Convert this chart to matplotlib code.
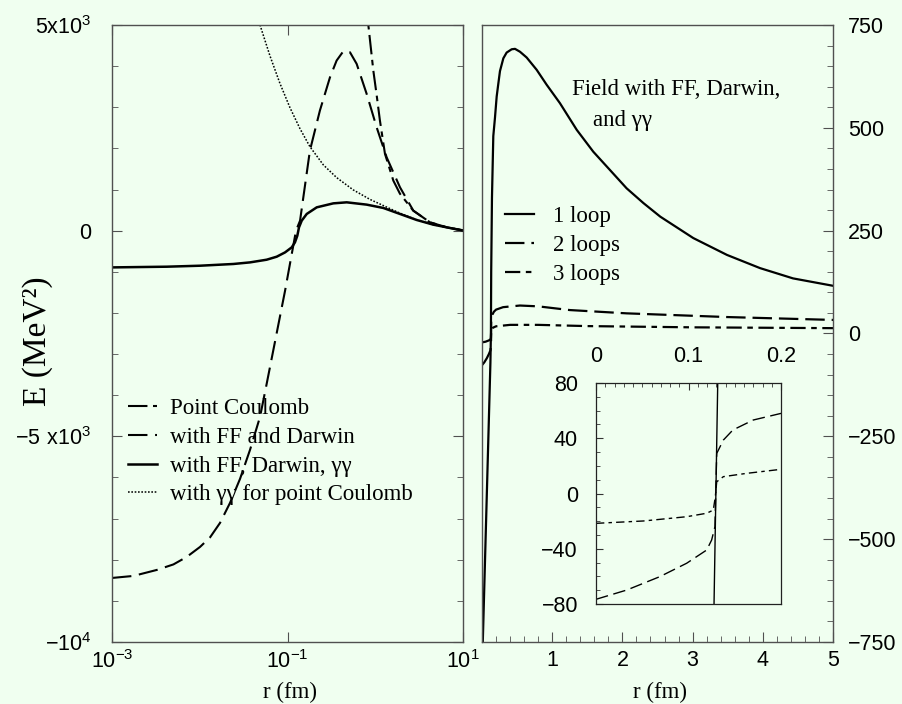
import matplotlib
matplotlib.use("Agg")
import matplotlib.pyplot as plt
from matplotlib.ticker import FixedLocator, FixedFormatter, MultipleLocator, NullLocator

# ---------------- data: energy density vs radius (log panel) ----------------
r_point = [0.562, 0.708, 0.834, 0.951, 1.037, 1.13, 1.29, 1.607, 1.91, 2.71, 4.21, 6.52, 10.0]
e_point = [12200, 7200, 5000, 3890, 3300, 2680, 1870, 1217, 900, 487, 203, 81, 5]

r_ffd = [0.001, 0.00175, 0.00324, 0.00501, 0.00710, 0.01007, 0.01309, 0.01702, 0.02213,
         0.02877, 0.03741, 0.04864, 0.0579, 0.0938, 0.125, 0.139, 0.180, 0.234, 0.305,
         0.363, 0.433, 0.515, 0.614, 0.798, 1.037, 1.349, 1.914, 2.716, 4.207, 6.516, 10.0]
e_ffd = [-8443, -8394, -8248, -8114, -7932, -7689, -7458, -7105, -6618,
         -6034, -5328, -4526, -3723, -1460, 0, 243, 1946, 2920, 3730,
         4136, 4363, 4338, 4055, 3326, 2514, 1783, 1054, 487, 203, 81, 5]

r_ffdgg = [0.001, 0.0042, 0.01007, 0.02415, 0.03741, 0.0579, 0.0753, 0.0938, 0.1117,
           0.1216, 0.1294, 0.1352, 0.1452, 0.1656, 0.2153, 0.3327, 0.4732, 0.7980,
           1.236, 1.914, 2.965, 4.592, 7.112, 10.0]
e_ffdgg = [-893, -876, -852, -810, -771, -706, -633, -528, -406,
           -284, -122, 80, 243, 406, 567, 664, 689, 633,
           552, 406, 260, 146, 65, 5]

r_gg_point = [0.035, 0.0486, 0.0631, 0.0820, 0.1067, 0.1387, 0.1803, 0.2559, 0.3631,
              0.5623, 0.8710, 1.236, 1.914, 2.965, 4.592, 7.112, 10.0]
e_gg_point = [6200, 5000, 4250, 3580, 2990, 2480, 2040, 1600, 1290,
              990, 760, 610, 425, 265, 146, 65, 5]

# ---------------- data: field energy with vacuum polarisation loops ----------------
r_loop1 = [0.0, 0.12, 0.127, 0.131, 0.142, 0.161, 0.185, 0.209, 0.233, 0.256, 0.304,
           0.351, 0.423, 0.47, 0.541, 0.636, 0.779, 0.92, 1.11, 1.35, 1.585, 1.82,
           2.06, 2.3, 2.54, 3.01, 3.49, 3.96, 4.43, 5.0]
e_loop1 = [-820, -70, 0, 150, 330, 480, 525, 576, 608, 638, 669,
           683, 691, 692, 685, 671, 641, 605, 560, 495, 442, 398,
           353, 317, 284, 232, 191, 159, 134, 116]

r_loop2 = [0.0, 0.033, 0.069, 0.098, 0.12, 0.125, 0.1286, 0.1305, 0.138, 0.148, 0.17, 0.2,
           0.3, 0.54, 0.8, 1.25, 2.06, 3.49, 5.0]
e_loop2 = [-77, -70, -60, -50, -41, -34, -24, 29, 39, 46, 53, 58,
           64, 68, 66, 57, 49, 40, 33]

r_loop3 = [0.0, 0.051, 0.098, 0.12, 0.127, 0.129, 0.1305, 0.138, 0.163, 0.2,
           0.4, 0.8, 1.5, 3.0, 5.0]
e_loop3 = [-21.6, -19.9, -16.8, -14.3, -12, -2.3, 8.5, 12.2, 14.6, 17.5,
           21, 21, 18, 15, 13]

# inset: close-up of the region around the nuclear surface
r_in_loop1 = [0.1271, 0.1321]
e_in_loop1 = [-100, 100]

r_in_loop2 = [0.0, 0.0332, 0.069, 0.098, 0.1197, 0.125, 0.1286, 0.1305, 0.1377, 0.148, 0.170, 0.2]
e_in_loop2 = [-76.6, -69.9, -60.2, -50.5, -40.9, -33.7, -24, 29, 38.7, 46, 53.2, 58]

r_in_loop3 = [0.0, 0.0512, 0.098, 0.1197, 0.1268, 0.129, 0.1305, 0.1377, 0.163, 0.2]
e_in_loop3 = [-21.6, -19.9, -16.8, -14.3, -12, -2.3, 8.5, 12.2, 14.6, 17.5]

# tick labels
left_yticks = [-10000, -5000, 0, 5000]
left_yticklabels = [r"$\mathregular{-10^4}$", r"$\mathregular{-5\ x10^3}$", "0",
                    r"$\mathregular{5x10^3}$"]
left_xticks = [1e-3, 1e-1, 1e1]
left_xticklabels = [r"$\mathregular{10^{-3}}$", r"$\mathregular{10^{-1}}$", r"$\mathregular{10^{1}}$"]
right_xticks = [0, 1, 2, 3, 4, 5]
right_xticklabels = ["", "1", "2", "3", "4", "5"]
inset_xticks = [0, 0.1, 0.2]
inset_xticklabels = ["0", "0.1", "0.2"]

# ---------------- style ----------------
BG = "#F0FFF0"
SPINE = "#505050"
SERIF = "Liberation Serif"
TXT = 16.5
TICK = 15.5
plt.rcParams["font.family"] = ["Liberation Sans", "DejaVu Sans"]
plt.rcParams["lines.scale_dashes"] = False
plt.rcParams["axes.linewidth"] = 1.0
plt.rcParams["lines.solid_joinstyle"] = "round"
plt.rcParams["lines.dash_joinstyle"] = "round"

fig = plt.figure(figsize=(9.02, 7.04), dpi=100, facecolor=BG)
W, H = 902.0, 704.0
axL = fig.add_axes([112 / W, 62 / H, 351 / W, 617 / H], facecolor=BG)
axR = fig.add_axes([482 / W, 62 / H, 351 / W, 617 / H], facecolor=BG)
axI = fig.add_axes([596 / W, 100 / H, 185 / W, 221 / H], facecolor=BG)

for ax in (axL, axR):
    for s in ax.spines.values():
        s.set_color(SPINE)
for s in axI.spines.values():
    s.set_color("#222222")
    s.set_linewidth(0.9)

# ---------------- left panel ----------------
axL.set_xscale("log")
axL.plot(r_point, e_point, color="k", lw=1.5, dashes=(14, 4, 4, 4), label="Point Coulomb")
axL.plot(r_ffd, e_ffd, color="k", lw=1.5, dashes=(14, 5.5), label="with FF and Darwin")
axL.plot(r_ffdgg, e_ffdgg, color="k", lw=1.8, label="with FF, Darwin, γγ")
axL.plot(r_gg_point, e_gg_point, color="k", lw=1.1, dashes=(1.2, 1.2),
         label="with γγ for point Coulomb")
axL.set_xlim(1e-3, 10)
axL.set_ylim(-10000, 5000)
axL.xaxis.set_major_locator(FixedLocator(left_xticks))
axL.xaxis.set_major_formatter(FixedFormatter(left_xticklabels))
axL.xaxis.set_minor_locator(NullLocator())
axL.yaxis.set_major_locator(FixedLocator(left_yticks))
axL.yaxis.set_major_formatter(FixedFormatter(left_yticklabels))
axL.yaxis.set_minor_locator(MultipleLocator(1000))
axL.tick_params(which="both", direction="in", top=True, right=True, color=SPINE,
                labelsize=TICK)
axL.tick_params(which="major", length=7)
axL.tick_params(which="minor", length=4)
axL.tick_params(axis="y", pad=15)
axL.tick_params(axis="x", pad=6)
axL.legend(loc="upper left", bbox_to_anchor=(0.046, 0.395), frameon=False,
           prop={"family": SERIF, "size": TXT}, handlelength=1.27, handletextpad=0.57,
           labelspacing=0.33, borderpad=0, borderaxespad=0)
axL.set_xlabel("r (fm)", family=SERIF, fontsize=TXT)
axL.xaxis.set_label_coords(0.507, -0.064)

fig.text(38 / W, 1 - 341 / H, "E (MeV²)", rotation=90, ha="center", va="center",
         family=SERIF, fontsize=24)

# ---------------- right panel ----------------
axR.plot(r_loop1, e_loop1, color="k", lw=1.6, label="1 loop")
axR.plot(r_loop2, e_loop2, color="k", lw=1.6, dashes=(14, 5), label="2 loops")
axR.plot(r_loop3, e_loop3, color="k", lw=1.6, dashes=(11, 4, 4, 4), label="3 loops")
axR.set_xlim(0, 5)
axR.set_ylim(-750, 750)
axR.yaxis.tick_right()
axR.xaxis.set_major_locator(FixedLocator(right_xticks))
axR.xaxis.set_major_formatter(FixedFormatter(right_xticklabels))
axR.xaxis.set_minor_locator(MultipleLocator(0.2))
axR.yaxis.set_major_locator(MultipleLocator(250))
axR.yaxis.set_minor_locator(MultipleLocator(50))
axR.tick_params(which="both", direction="in", top=False, left=False, right=True,
                bottom=True, color=SPINE, labelsize=TICK)
axR.tick_params(which="major", length=7)
axR.tick_params(which="minor", length=4)
axR.tick_params(axis="y", pad=11)
axR.tick_params(axis="x", pad=6)
axR.legend(loc="upper left", bbox_to_anchor=(0.066, 0.706), frameon=False,
           prop={"family": SERIF, "size": TXT}, handlelength=1.25, handletextpad=0.83,
           labelspacing=0.33, borderpad=0, borderaxespad=0)
axR.text(1.28, 592, "Field with FF, Darwin,", family=SERIF, fontsize=TXT, va="center")
axR.text(1.58, 519, "and γγ", family=SERIF, fontsize=TXT, va="center")
axR.set_xlabel("r (fm)", family=SERIF, fontsize=TXT)
axR.xaxis.set_label_coords(0.507, -0.064)

# ---------------- inset ----------------
axI.plot(r_in_loop1, e_in_loop1, color="k", lw=1.0)
axI.plot(r_in_loop2, e_in_loop2, color="k", lw=1.0, dashes=(9, 4))
axI.plot(r_in_loop3, e_in_loop3, color="k", lw=1.0, dashes=(6, 3, 2.5, 3))
axI.set_xlim(0, 0.2)
axI.set_ylim(-80, 80)
axI.xaxis.tick_top()
axI.xaxis.set_major_locator(FixedLocator(inset_xticks))
axI.xaxis.set_major_formatter(FixedFormatter(inset_xticklabels))
axI.xaxis.set_minor_locator(MultipleLocator(0.01))
axI.yaxis.set_major_locator(MultipleLocator(40))
axI.yaxis.set_minor_locator(MultipleLocator(10))
axI.tick_params(which="both", direction="in", top=True, bottom=False, left=True,
                right=False, color="#333333", labelsize=TICK)
axI.tick_params(which="major", length=5)
axI.tick_params(which="minor", length=3)
axI.tick_params(axis="x", pad=11.5)
axI.tick_params(axis="y", pad=13)

fig.savefig("out.png", dpi=100, facecolor=BG)
